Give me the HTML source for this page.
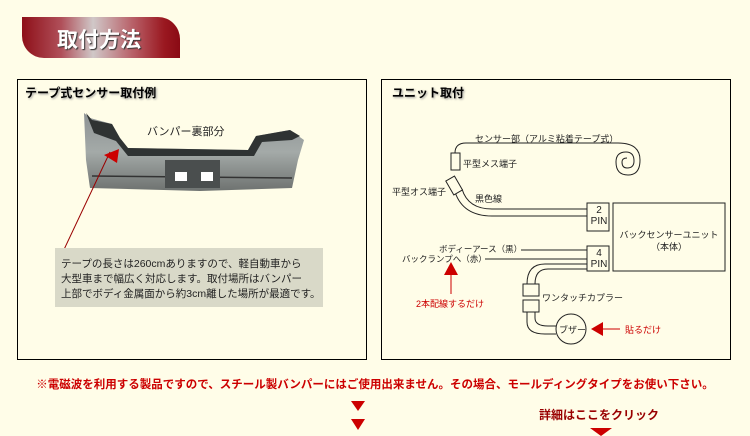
<!DOCTYPE html>
<html><head><meta charset="utf-8"><style>
body{margin:0;width:750px;height:436px;background:#fffde8;overflow:hidden;font-family:"Liberation Sans","Noto Sans CJK JP",sans-serif;position:relative}
.a{position:absolute;white-space:nowrap}
.ban{left:22px;top:17px;width:158px;height:41px;border-radius:0 22px 0 22px;background:linear-gradient(90deg,#8e0f18 0%,#b0505a 25%,#d0c8c8 45%,#b86068 70%,#9a1820 90%,#8a0a14 100%)}
.box{position:absolute;border:1px solid #000;top:79px;height:281px;width:350px;box-sizing:border-box}
</style></head><body>
<div class="a ban"></div>
<div class="a" style="left:57px;top:24px;font-size:21px;font-weight:bold;color:#fff;text-shadow:1px 1px 1px #333">取付方法</div>
<div class="box" style="left:17px"></div>
<div class="box" style="left:381px"></div>
<div class="a" style="left:25px;top:84px;font-size:12px;font-weight:bold;color:#000;text-shadow:1px 1px 2px #999">テープ式センサー取付例</div>
<div class="a" style="left:392px;top:84px;font-size:12px;font-weight:bold;color:#000;text-shadow:1px 1px 2px #999">ユニット取付</div>
<svg class="a" style="left:0;top:0" width="750" height="436">
<defs><linearGradient id="bg" x1="0" y1="0" x2="0" y2="1"><stop offset="0" stop-color="#8d9294"/><stop offset="0.5" stop-color="#a4aaa8"/><stop offset="1" stop-color="#6e7270"/></linearGradient></defs>
<path d="M84,113 L90,118 L112,124 L120,138 L128,148 L248,150 L256,136 L290,130 L304,140 L298,160 L292,188 L200,191 L90,188 L86,160 Z" fill="url(#bg)"/>
<path d="M86,113 L92,120 L112,124 L120,138 L128,148 L248,150 L256,136 L290,130 L300,136 L292,140 L262,142 L254,156 L128,156 L116,141 L94,133 Z" fill="#2f3333"/>
<path d="M92,176 L292,178" stroke="#333" stroke-width="1.5"/>
<rect x="165" y="160" width="55" height="28" fill="#4a4e4e"/>
<rect x="175" y="172" width="12" height="9" fill="#fff"/><rect x="201" y="172" width="12" height="9" fill="#fff"/>
<line x1="60" y1="258" x2="110" y2="152" stroke="#900" stroke-width="1"/>
<polygon points="104,155 119,149 117,163" fill="#c00"/>
<rect x="55" y="248" width="268" height="59" fill="#d9d9c8"/>
<g fill="none" stroke="#222" stroke-width="1">
<path d="M455,153 Q455,143 466,143 L618,143 Q640,143 640,160 Q640,175 628,175 Q616,175 616,162 Q616,152 626,152 Q634,152 634,161 Q634,168 627,168 Q622,168 622,162 Q622,158 627,158"/>
<rect x="451" y="153" width="9" height="17" fill="#fffde8"/>
<path d="M455,192 Q463,216 492,216 L588,216"/>
<path d="M462,189 Q468,209 492,209 L588,209" />
<g transform="rotate(-30 455 185)"><rect x="449" y="177" width="10" height="16" fill="#fffde8"/></g>
<rect x="587" y="203" width="22" height="28" fill="#fffde8"/>
<rect x="613" y="203" width="112" height="68"/>
<rect x="587" y="246" width="22" height="25" fill="#fffde8"/>
<line x1="521" y1="250" x2="587" y2="250"/>
<line x1="485" y1="259" x2="587" y2="259"/>
<path d="M587,264 L545,264 Q527,264 527,284"/>
<path d="M587,269 L548,269 Q535,269 535,284"/>
<rect x="523" y="284" width="16" height="12" fill="#fffde8"/>
<rect x="523" y="300" width="16" height="12" fill="#fffde8"/>
<path d="M527,312 L527,322 Q527,334 545,334 L556,334"/>
<path d="M535,312 L535,318 Q535,326 548,326 L557,326"/>
<circle cx="571" cy="329" r="15" fill="#fffde8"/>
</g>
<line x1="451" y1="275" x2="451" y2="294" stroke="#c00"/>
<polygon points="444,275 458,275 451,262" fill="#c00"/>
<line x1="600" y1="329" x2="620" y2="329" stroke="#c00"/>
<polygon points="591,329 603,322 603,336" fill="#c00"/>
<polygon points="351,401 365,401 358,411" fill="#c00"/>
<polygon points="351,419 365,419 358,430" fill="#c00"/>
<polygon points="590,428 612,428 601,436" fill="#c00"/>
</svg>
<div class="a" style="left:147px;top:123px;font-size:11px;color:#222">バンパー裏部分</div>
<div class="a" style="left:61px;top:257px;font-size:10.5px;line-height:15px;color:#222">テープの長さは260cmありますので、軽自動車から<br>大型車まで幅広く対応します。取付場所はバンパー<br>上部でボディ金属面から約3cm離した場所が最適です。</div>
<div class="a" style="left:475px;top:132px;font-size:9px;color:#222">センサー部（アルミ粘着テープ式）</div>
<div class="a" style="left:463px;top:157px;font-size:9px;color:#222">平型メス端子</div>
<div class="a" style="left:392px;top:185px;font-size:9px;color:#222">平型オス端子</div>
<div class="a" style="left:475px;top:192px;font-size:9px;color:#222">黒色線</div>
<div class="a" style="left:588px;top:205px;width:22px;text-align:center;font-size:10px;line-height:11px;color:#222">2<br>PIN</div>
<div class="a" style="left:613px;top:229px;width:112px;text-align:center;font-size:9px;line-height:12px;color:#222">バックセンサーユニット<br>（本体）</div>
<div class="a" style="left:588px;top:248px;width:22px;text-align:center;font-size:10px;line-height:11px;color:#222">4<br>PIN</div>
<div class="a" style="left:439px;top:243px;font-size:8.5px;color:#222">ボディーアース（黒）</div>
<div class="a" style="left:402px;top:253px;font-size:8.5px;color:#222">バックランプへ（赤）</div>
<div class="a" style="left:416px;top:297px;font-size:9px;color:#c00">2本配線するだけ</div>
<div class="a" style="left:542px;top:291px;font-size:9px;color:#222">ワンタッチカプラー</div>
<div class="a" style="left:559px;top:323px;font-size:9px;color:#222">ブザー</div>
<div class="a" style="left:625px;top:323px;font-size:9px;color:#c00">貼るだけ</div>
<div class="a" style="left:17px;top:376px;width:716px;text-align:center;font-size:11.5px;font-weight:bold;color:#c00">※電磁波を利用する製品ですので、スチール製バンパーにはご使用出来ません。その場合、モールディングタイプをお使い下さい。</div>
<div class="a" style="left:539px;top:406px;font-size:12px;font-weight:bold;color:#900">詳細はここをクリック</div>
</body></html>
